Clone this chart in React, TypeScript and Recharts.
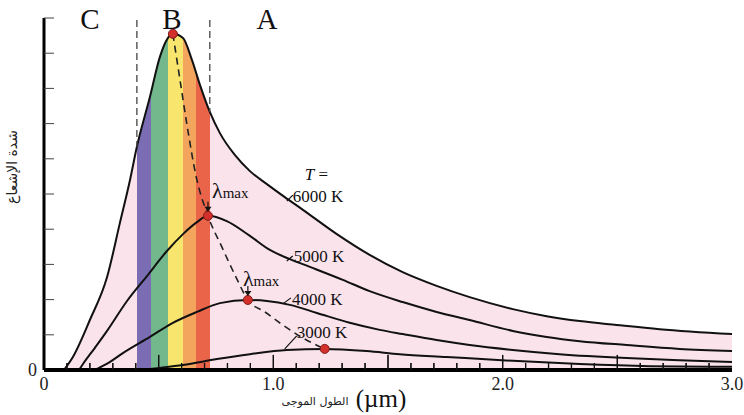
import { Area, ComposedChart, Line, ReferenceDot, ReferenceLine, XAxis, YAxis } from 'recharts';

// wavelength (µm) / intensity (in y-tick units, 0..10)
const curve6000 = [
  { x: 0.087, v: 0 }, { x: 0.126, v: 0.37 }, { x: 0.2, v: 1.42 }, { x: 0.275, v: 2.64 },
  { x: 0.331, v: 4.18 }, { x: 0.375, v: 5.4 }, { x: 0.405, v: 6.34 }, { x: 0.462, v: 7.76 },
  { x: 0.505, v: 8.89 }, { x: 0.54, v: 9.43 }, { x: 0.562, v: 9.55 }, { x: 0.606, v: 9.43 },
  { x: 0.645, v: 8.81 }, { x: 0.68, v: 8.1 }, { x: 0.723, v: 7.33 }, { x: 0.767, v: 6.73 },
  { x: 0.832, v: 6.11 }, { x: 0.898, v: 5.65 }, { x: 0.972, v: 5.28 }, { x: 1.05, v: 4.91 },
  { x: 1.129, v: 4.55 }, { x: 1.277, v: 3.86 }, { x: 1.42, v: 3.27 }, { x: 1.564, v: 2.78 },
  { x: 1.712, v: 2.39 }, { x: 1.856, v: 2.07 }, { x: 2.044, v: 1.73 }, { x: 2.192, v: 1.53 },
  { x: 2.336, v: 1.39 }, { x: 2.497, v: 1.28 }, { x: 2.684, v: 1.16 }, { x: 3.0, v: 1.02 },
];

const curve5000 = [
  { x: 0.153, v: 0 }, { x: 0.17, v: 0.17 }, { x: 0.222, v: 0.63 }, { x: 0.275, v: 1.11 },
  { x: 0.362, v: 1.96 }, { x: 0.449, v: 2.67 }, { x: 0.536, v: 3.38 }, { x: 0.606, v: 3.86 },
  { x: 0.667, v: 4.2 }, { x: 0.715, v: 4.38 }, { x: 0.797, v: 4.23 }, { x: 0.898, v: 3.81 },
  { x: 0.985, v: 3.41 }, { x: 1.072, v: 3.15 }, { x: 1.159, v: 2.93 }, { x: 1.303, v: 2.56 },
  { x: 1.42, v: 2.24 }, { x: 1.564, v: 1.93 }, { x: 1.712, v: 1.65 }, { x: 1.856, v: 1.42 },
  { x: 2.044, v: 1.11 }, { x: 2.192, v: 0.94 }, { x: 2.336, v: 0.82 }, { x: 2.54, v: 0.71 },
  { x: 2.771, v: 0.6 }, { x: 3.0, v: 0.54 },
];

const curve4000 = [
  { x: 0.222, v: 0 }, { x: 0.288, v: 0.23 }, { x: 0.344, v: 0.48 }, { x: 0.462, v: 0.94 },
  { x: 0.562, v: 1.34 }, { x: 0.667, v: 1.65 }, { x: 0.767, v: 1.9 }, { x: 0.889, v: 1.99 },
  { x: 0.972, v: 1.96 }, { x: 1.072, v: 1.85 }, { x: 1.19, v: 1.62 }, { x: 1.333, v: 1.34 },
  { x: 1.464, v: 1.14 }, { x: 1.564, v: 1.02 }, { x: 1.712, v: 0.85 }, { x: 1.856, v: 0.71 },
  { x: 2.044, v: 0.57 }, { x: 2.248, v: 0.45 }, { x: 2.54, v: 0.34 }, { x: 2.771, v: 0.28 },
  { x: 3.0, v: 0.23 },
];

const curve3000 = [
  { x: 0.418, v: 0 }, { x: 0.505, v: 0.06 }, { x: 0.606, v: 0.14 }, { x: 0.754, v: 0.31 },
  { x: 0.898, v: 0.45 }, { x: 1.059, v: 0.57 }, { x: 1.224, v: 0.6 }, { x: 1.407, v: 0.54 },
  { x: 1.551, v: 0.45 }, { x: 1.756, v: 0.37 }, { x: 2.044, v: 0.26 }, { x: 2.336, v: 0.17 },
  { x: 2.641, v: 0.11 }, { x: 3.0, v: 0.09 },
];

// peak of each curve (λmax)
const peaks = [
  { x: 0.562, v: 9.55 },
  { x: 0.715, v: 4.38 },
  { x: 0.889, v: 1.99 },
  { x: 1.224, v: 0.6 },
];

// dashed line joining the peaks
const wienPath = [
  { x: 0.562, v: 9.55 }, { x: 0.593, v: 8.24 }, { x: 0.627, v: 6.82 }, { x: 0.662, v: 5.54 },
  { x: 0.715, v: 4.38 }, { x: 0.776, v: 3.49 }, { x: 0.837, v: 2.64 }, { x: 0.889, v: 1.99 },
  { x: 0.963, v: 1.65 }, { x: 1.041, v: 1.28 }, { x: 1.129, v: 0.91 }, { x: 1.224, v: 0.6 },
];

// visible band under the 6000 K curve
const bandFrom = [0.405, 0.466, 0.54, 0.606, 0.662];
const bandTo = [0.466, 0.54, 0.606, 0.662, 0.723];
const bandColors = ['#7a6db4', '#73b78c', '#f7e56d', '#f3a55e', '#ea6449'];
const regionEdges = [0.405, 0.723];
const regionTop = 9.94;

const xTicks = [
  0, 0.1, 0.2, 0.3, 0.4, 0.5, 0.6, 0.7, 0.8, 0.9, 1.0, 1.1, 1.2, 1.3, 1.4, 1.5,
  1.6, 1.7, 1.8, 1.9, 2.0, 2.1, 2.2, 2.3, 2.4, 2.5, 2.6, 2.7, 2.8, 2.9, 3.0,
];
const xMajorTicks = [0.5, 1.0, 1.5, 2.0, 2.5];
const xLabelValues = [0, 1, 2, 3];
const xLabelTexts = ['0', '1.0', '2.0', '3.0'];
const yTicks = [0, 1, 2, 3, 4, 5, 6, 7, 8, 9, 10];

const tempLabels = ['6000 K', '5000 K', '4000 K', '3000 K'];
// where each tag starts, in data units
const tempLabelAt = [
  { x: 1.085, v: 4.77 },
  { x: 1.089, v: 3.07 },
  { x: 1.081, v: 1.85 },
  { x: 1.102, v: 0.91 },
];
const tHeadAt = { x: 1.137, v: 5.4 };

const PINK = '#fbe3ec';
const SERIF = '"Liberation Serif", "DejaVu Serif", serif';
const ARABIC = '"DejaVu Sans", "Noto Sans", sans-serif';

// inward x ticks: anchor height in y units, and the same length in pixels
const MAJOR_TICK = 0.43;
const MINOR_TICK = 0.2;
const MAJOR_PX = 15;
const MINOR_PX = 7;

// leader tick from curve to tag, relative to the tag start (pixels)
const leaders = [
  [-6, -1, 0, -7],
  [-7, -1, -1, -6],
  [-9, -1, -1, -7],
  [-12, 11, 0, -2],
];
const lambdaLabelOffsets = [
  { peak: 1, dx: 4, dy: -18 },
  { peak: 2, dx: -5, dy: -14 },
];

function near(a: number, b: number) {
  return Math.abs(a - b) < 1e-6;
}

function XTick(props: any) {
  const { x, y, payload } = props;
  const v = payload.value;
  const li = xLabelValues.findIndex((m) => near(m, v));
  const major = xMajorTicks.some((m) => near(m, v));
  const inner = !near(v, 0) && !near(v, 3);
  return (
    <g>
      {inner && <rect x={x - 0.6} y={y - (major ? MAJOR_PX : MINOR_PX)} width={1.2} height={major ? MAJOR_PX : MINOR_PX} fill="#111" />}
      {li >= 0 && (
        <text x={x} y={y + 20} textAnchor="middle" fontFamily={SERIF} fontSize={18} fill="#222">
          {xLabelTexts[li]}
        </text>
      )}
    </g>
  );
}

function YTick(props: any) {
  const { x, y, payload } = props;
  const v = payload.value;
  return (
    <g>
      {v > 0 && <line x1={x} x2={x + 10} y1={y} y2={y} stroke="#444" strokeWidth={1} />}
      {v === 0 && (
        <text x={x - 7} y={y + 6} textAnchor="end" fontFamily={SERIF} fontSize={18} fill="#222">
          0
        </text>
      )}
    </g>
  );
}

export default function App() {
  const xStart = curve6000[0].x;
  const xEnd = curve6000[curve6000.length - 1].x;
  const pct = (x: number) => `${((x - xStart) / (xEnd - xStart)) * 100}%`;

  const stops: [string, string][] = [['0%', PINK], [pct(bandFrom[0]), PINK]];
  bandColors.forEach((c, i) => {
    stops.push([pct(bandFrom[i]), c], [pct(bandTo[i]), c]);
  });
  stops.push([pct(bandTo[bandTo.length - 1]), PINK], ['100%', PINK]);

  const edgeBottom = regionEdges.map((e) => curve6000.find((p) => near(p.x, e))!.v);
  const innerTicks = xTicks.filter((t) => !near(t, 0) && !near(t, 3));

  return (
    <div style={{ position: 'absolute', left: 0, top: 0, width: 744, height: 415, background: '#fff' }}>
      <ComposedChart width={744} height={415} margin={{ top: 18, right: 12, bottom: 0, left: 0 }}>
        <defs>
          <linearGradient id="spectrum" x1="0" y1="0" x2="1" y2="0">
            {stops.map(([o, c], i) => (
              <stop key={i} offset={o} stopColor={c} />
            ))}
          </linearGradient>
        </defs>

        <XAxis
          type="number"
          dataKey="x"
          domain={[0, 3]}
          ticks={xTicks}
          interval={0}
          height={45}
          axisLine={{ stroke: '#000', strokeWidth: 4 }}
          tickLine={false}
          tickSize={0}
          tickMargin={0}
          tick={(p: any) => <XTick {...p} />}
        />
        <YAxis
          type="number"
          domain={[0, 10]}
          ticks={yTicks}
          interval={0}
          width={44}
          axisLine={{ stroke: '#000', strokeWidth: 3 }}
          tickLine={false}
          tickSize={0}
          tickMargin={0}
          tick={(p: any) => <YTick {...p} />}
        />

        <Area
          data={curve6000}
          dataKey="v"
          type="monotone"
          fill="url(#spectrum)"
          fillOpacity={1}
          stroke="#111"
          strokeWidth={2}
          dot={false}
          activeDot={false}
          isAnimationActive={false}
        />
        {[curve5000, curve4000, curve3000].map((d, i) => (
          <Line
            key={i}
            data={d}
            dataKey="v"
            type="monotone"
            stroke="#111"
            strokeWidth={2}
            dot={false}
            activeDot={false}
            isAnimationActive={false}
          />
        ))}
        <Line
          data={wienPath}
          dataKey="v"
          type="monotone"
          stroke="#222"
          strokeWidth={1.6}
          strokeDasharray="7 5"
          dot={false}
          activeDot={false}
          isAnimationActive={false}
        />

        {regionEdges.map((e, i) => (
          <ReferenceLine
            key={i}
            segment={[
              { x: e, y: regionTop },
              { x: e, y: edgeBottom[i] },
            ]}
            stroke="#444"
            strokeWidth={1.3}
            strokeDasharray="7 4"
          />
        ))}

        {/* inward x ticks over the fill: anchored at their tops, drawn down to the axis */}
        {innerTicks.map((t) => {
          const major = xMajorTicks.some((m) => near(m, t));
          const len = major ? MAJOR_PX : MINOR_PX;
          return (
            <ReferenceDot
              key={'t' + t}
              x={t}
              y={major ? MAJOR_TICK : MINOR_TICK}
              r={0}
              ifOverflow="visible"
              shape={(s: any) => (
                <g>
                  <rect x={s.cx - 0.6} y={s.cy} width={1.2} height={len} fill="#111" />
                </g>
              )}
            />
          );
        })}

        {peaks.map((p, i) => (
          <ReferenceDot key={i} x={p.x} y={p.v} r={4.5} fill="#d3302c" stroke="#7d1b17" strokeWidth={1} />
        ))}

        {lambdaLabelOffsets.map((l, i) => (
          <ReferenceDot
            key={'l' + i}
            x={peaks[l.peak].x}
            y={peaks[l.peak].v}
            r={0}
            shape={(s: any) => (
              <g>
                <line x1={s.cx} x2={s.cx} y1={s.cy - 14} y2={s.cy - 8} stroke="#111" strokeWidth={1.2} />
                <path d={`M${s.cx - 3.5},${s.cy - 9} L${s.cx + 3.5},${s.cy - 9} L${s.cx},${s.cy - 4} Z`} fill="#111" />
                <text x={s.cx + l.dx} y={s.cy + l.dy} fontFamily={SERIF} fill="#111">
                  <tspan fontSize={22}>λ</tspan>
                  <tspan fontSize={15}>max</tspan>
                </text>
              </g>
            )}
          />
        ))}

        {tempLabels.map((t, i) => (
          <ReferenceDot
            key={t}
            x={tempLabelAt[i].x}
            y={tempLabelAt[i].v}
            r={0}
            shape={(s: any) => (
              <g>
                <line
                  x1={s.cx + leaders[i][0]}
                  y1={s.cy + leaders[i][1]}
                  x2={s.cx + leaders[i][2]}
                  y2={s.cy + leaders[i][3]}
                  stroke="#111"
                  strokeWidth={1.2}
                />
                <text x={s.cx} y={s.cy} fontFamily={SERIF} fontSize={17} fill="#111">
                  {t}
                </text>
              </g>
            )}
          />
        ))}
        <ReferenceDot
          x={tHeadAt.x}
          y={tHeadAt.v}
          r={0}
          shape={(s: any) => (
            <text x={s.cx} y={s.cy} fontFamily={SERIF} fontSize={17} fill="#111">
              <tspan fontStyle="italic">T</tspan> =
            </text>
          )}
        />

        <g fontFamily={SERIF} fill="#111">
          <text x={90} y={29} fontSize={29} textAnchor="middle">C</text>
          <text x={172} y={29} fontSize={29} textAnchor="middle">B</text>
          <text x={267} y={29} fontSize={29} textAnchor="middle">A</text>
          <text x={381} y={407} fontSize={25} textAnchor="middle">(µm)</text>
        </g>
        <text x={315} y={405} fontSize={11} textAnchor="middle" fontFamily={ARABIC} fill="#222">
          الطول الموجى
        </text>
        <text
          x={17}
          y={167}
          fontSize={14}
          textAnchor="middle"
          fontFamily={ARABIC}
          fill="#222"
          transform="rotate(-90 17 167)"
        >
          شدة الإشعاع
        </text>
      </ComposedChart>
    </div>
  );
}
